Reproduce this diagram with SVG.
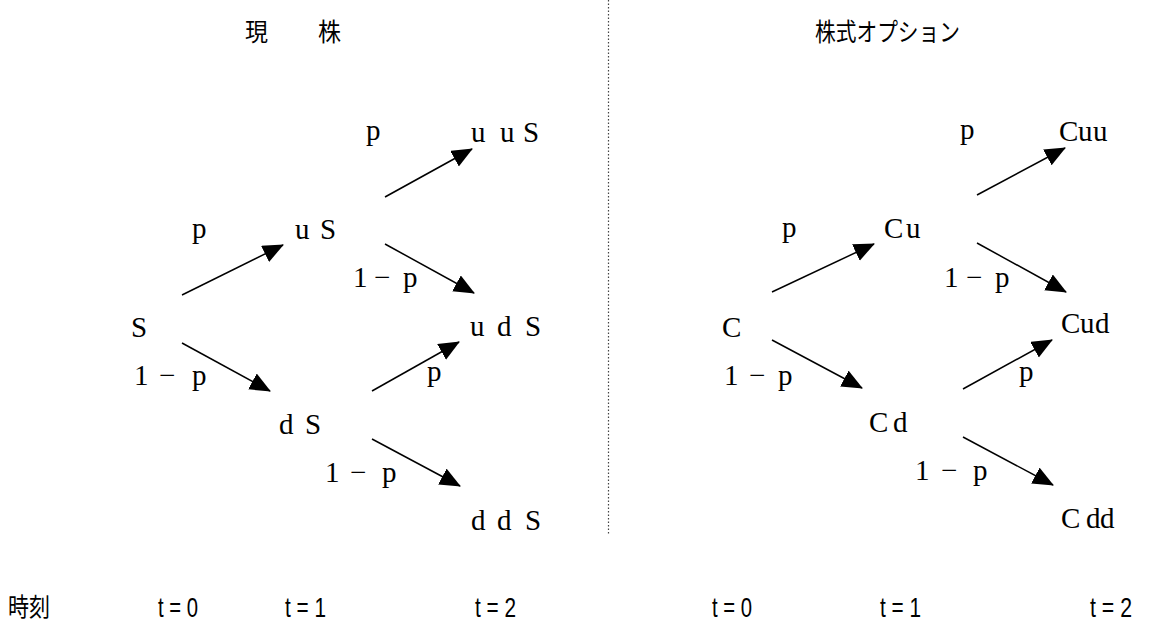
<svg xmlns="http://www.w3.org/2000/svg" width="1152" height="623" viewBox="0 0 1152 623">
<defs>
<style>
.lbl{font-family:"Liberation Serif","DejaVu Serif",serif;font-size:29px;fill:#000}
.ttl{font-family:"Noto Sans CJK JP","Noto Sans CJK SC",sans-serif;font-size:25px;fill:#000}
.tm{font-family:"Liberation Sans","DejaVu Sans",sans-serif;font-size:28px;fill:#000}
.arr{stroke:#000;stroke-width:1.5;fill:none;marker-end:url(#ah)}
</style>
<marker id="ah" markerUnits="userSpaceOnUse" markerWidth="22" markerHeight="20" refX="20" refY="9" orient="auto" viewBox="0 0 22 20">
<path d="M0,0 L21,9 L0,18 Z" fill="#000"/>
</marker>
</defs>
<rect width="1152" height="623" fill="#fff"/>
<line x1="608.5" y1="0" x2="608.5" y2="535" stroke="#444" stroke-width="1.2" stroke-dasharray="1.5,2"/>
<g id="titles">
<text class="ttl" x="245" y="41" textLength="23" lengthAdjust="spacingAndGlyphs">現</text>
<text class="ttl" x="318" y="41" textLength="23" lengthAdjust="spacingAndGlyphs">株</text>
<text class="ttl" x="815" y="41" textLength="145" lengthAdjust="spacingAndGlyphs">株式オプション</text>
</g>
<g id="connectors">
<line class="arr" x1="182" y1="295" x2="283" y2="245"/>
<line class="arr" x1="385" y1="197" x2="472" y2="149"/>
<line class="arr" x1="385" y1="244" x2="474" y2="293"/>
<line class="arr" x1="182" y1="343" x2="270" y2="391"/>
<line class="arr" x1="372" y1="391" x2="459" y2="342"/>
<line class="arr" x1="372" y1="439" x2="460" y2="486"/>
<line class="arr" x1="772" y1="292" x2="874" y2="244"/>
<line class="arr" x1="977" y1="195" x2="1065" y2="148"/>
<line class="arr" x1="977" y1="243" x2="1066" y2="292"/>
<line class="arr" x1="772" y1="340" x2="862" y2="388"/>
<line class="arr" x1="963" y1="389" x2="1052" y2="340"/>
<line class="arr" x1="963" y1="437" x2="1053" y2="485"/>
</g>
<g id="edge-labels">
<text class="lbl" x="192" y="238">p</text>
<text class="lbl" x="366" y="140">p</text>
<text class="lbl" x="353 374 403" y="287">1−p</text>
<text class="lbl" x="134 159 192" y="385">1−p</text>
<text class="lbl" x="427" y="381">p</text>
<text class="lbl" x="325 350 382" y="482">1−p</text>
<text class="lbl" x="782" y="237">p</text>
<text class="lbl" x="960" y="139">p</text>
<text class="lbl" x="944 966 995" y="287">1−p</text>
<text class="lbl" x="724 749 778" y="385">1−p</text>
<text class="lbl" x="1019" y="381">p</text>
<text class="lbl" x="915 941 973" y="480">1−p</text>
</g>
<g id="node-S"><text class="lbl" x="131" y="337">S</text></g>
<g id="node-uS"><text class="lbl" x="295 320" y="239">uS</text></g>
<g id="node-dS"><text class="lbl" x="279 305" y="434">dS</text></g>
<g id="node-uuS"><text class="lbl" x="471 500 523" y="142">uuS</text></g>
<g id="node-udS"><text class="lbl" x="470 497 525" y="336">udS</text></g>
<g id="node-ddS"><text class="lbl" x="471 497 525" y="530">ddS</text></g>
<g id="node-C"><text class="lbl" x="722" y="337">C</text></g>
<g id="node-Cu"><text class="lbl" x="884 906" y="238">Cu</text></g>
<g id="node-Cd"><text class="lbl" x="869 893" y="432">Cd</text></g>
<g id="node-Cuu"><text class="lbl" x="1059 1078 1093" y="141">Cuu</text></g>
<g id="node-Cud"><text class="lbl" x="1061 1080 1095" y="333">Cud</text></g>
<g id="node-Cdd"><text class="lbl" x="1061 1086 1100" y="528">Cdd</text></g>
<g id="time-axis">
<text class="ttl" x="8" y="616" textLength="42" lengthAdjust="spacingAndGlyphs">時刻</text>
<text class="tm" x="158" y="617" textLength="40" lengthAdjust="spacingAndGlyphs">t = 0</text>
<text class="tm" x="285" y="617" textLength="41" lengthAdjust="spacingAndGlyphs">t = 1</text>
<text class="tm" x="475" y="617" textLength="41" lengthAdjust="spacingAndGlyphs">t = 2</text>
<text class="tm" x="712" y="617" textLength="40" lengthAdjust="spacingAndGlyphs">t = 0</text>
<text class="tm" x="880" y="617" textLength="41" lengthAdjust="spacingAndGlyphs">t = 1</text>
<text class="tm" x="1090" y="617" textLength="42" lengthAdjust="spacingAndGlyphs">t = 2</text>
</g>
</svg>
